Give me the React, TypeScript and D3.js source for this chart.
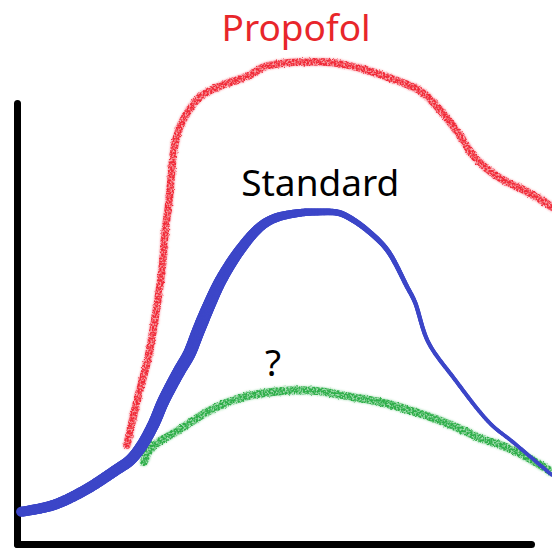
import React, { useEffect, useRef } from "react";
import * as d3 from "d3";

// x: time (0 at y-axis, 100 at end of x-axis); y: level (0 at x-axis, 100 at top of y-axis)
const standardX = [0.8, 7.0, 13.2, 19.3, 22.0, 24.1, 26.5, 28.4, 30.2, 31.7, 33.5, 35.2, 37.2, 39.7, 43.4, 47.3, 50.2, 55.1, 59.0, 62.5, 64.8, 68.1, 72.0, 75.9, 77.4, 80.0, 85.0, 92.0, 96.5, 104.1];
const standardY = [7.3, 8.8, 12.2, 16.8, 19.0, 22.0, 27.0, 32.2, 36.3, 39.5, 43.1, 48.1, 53.7, 59.9, 66.7, 71.9, 73.9, 75.1, 75.3, 75.1, 73.9, 71.2, 66.7, 58.3, 54.9, 45.8, 37.6, 27.4, 23.1, 15.6];

const propofolX = [21.4, 23.3, 25.5, 26.8, 28.2, 28.8, 29.6, 30.4, 30.9, 32.3, 35.6, 40.1, 45.3, 48.1, 54.9, 61.7, 66.7, 72.0, 76.5, 79.0, 82.3, 85.8, 89.1, 93.9, 99.4, 104.1];
const propofolY = [22.4, 32.2, 42.2, 50.8, 62.1, 70.5, 78.0, 88.2, 91.6, 96.1, 101.4, 104.1, 106.3, 108.2, 109.3, 109.1, 107.9, 105.9, 103.9, 102.3, 98.4, 93.2, 87.6, 83.0, 79.8, 76.4];

const unknownX = [24.7, 26.1, 30.9, 37.7, 43.4, 51.6, 58.4, 65.2, 70.6, 80.4, 85.8, 90.1, 96.5, 104.1];
const unknownY = [18.6, 21.8, 25.4, 30.4, 33.1, 34.7, 34.7, 33.3, 32.2, 28.8, 26.3, 24.0, 21.3, 16.3];

const labels = ["Propofol", "Standard", "?"];
const labelX = [54.3, 59.0, 49.8];
const labelY = [114.0, 79.0, 38.1];

const W = 552;
const H = 549;

export default function App() {
  const ref = useRef<SVGSVGElement | null>(null);

  useEffect(() => {
    const svg = d3.select(ref.current);
    svg.selectAll("*").remove();

    const x = d3.scaleLinear().domain([0, 100]).range([17, 531]);
    const y = d3.scaleLinear().domain([0, 100]).range([544, 103]);

    const defs = svg.append("defs");
    const mkFilter = (id: string, seed: number) => {
      const f = defs
        .append("filter")
        .attr("id", id)
        .attr("filterUnits", "userSpaceOnUse")
        .attr("x", 0)
        .attr("y", 0)
        .attr("width", W)
        .attr("height", H);
      f.append("feTurbulence")
        .attr("type", "fractalNoise")
        .attr("baseFrequency", 0.55)
        .attr("numOctaves", 2)
        .attr("seed", seed)
        .attr("result", "noise");
      f.append("feDisplacementMap")
        .attr("in", "SourceGraphic")
        .attr("in2", "noise")
        .attr("scale", 3)
        .attr("xChannelSelector", "R")
        .attr("yChannelSelector", "G")
        .attr("result", "disp");
      f.append("feGaussianBlur")
        .attr("in", "disp")
        .attr("stdDeviation", 0.9)
        .attr("result", "soft");
      f.append("feColorMatrix")
        .attr("in", "soft")
        .attr("type", "matrix")
        .attr("values", "1 0 0 0 0  0 1 0 0 0  0 0 1 0 0  0 0 0 0.45 0")
        .attr("result", "base");
      f.append("feColorMatrix")
        .attr("in", "noise")
        .attr("type", "matrix")
        .attr("values", "0 0 0 0 0  0 0 0 0 0  0 0 0 0 0  0 0 0 -3.2 2.3")
        .attr("result", "mask");
      f.append("feComposite")
        .attr("in", "disp")
        .attr("in2", "mask")
        .attr("operator", "in")
        .attr("result", "tex0");
      f.append("feGaussianBlur")
        .attr("in", "tex0")
        .attr("stdDeviation", 0.5)
        .attr("result", "tex");
      const m = f.append("feMerge");
      m.append("feMergeNode").attr("in", "base");
      m.append("feMergeNode").attr("in", "tex");
    };
    mkFilter("crayonRed", 3);
    mkFilter("crayonGreen", 7);

    // axes
    const gy = svg
      .append("g")
      .attr("transform", `translate(${x(0)},0)`)
      .call(d3.axisLeft(y).tickValues([]).tickSizeOuter(0));
    const gx = svg
      .append("g")
      .attr("transform", `translate(0,${y(0)})`)
      .call(d3.axisBottom(x).tickValues([]).tickSizeOuter(0));
    [gy, gx].forEach((g) =>
      g
        .select(".domain")
        .attr("stroke", "#000")
        .attr("stroke-width", 7)
        .attr("stroke-linecap", "round")
    );

    const line = d3
      .line<[number, number]>()
      .x((d) => x(d[0]))
      .y((d) => y(d[1]))
      .curve(d3.curveCatmullRom.alpha(0.5));

    // Propofol (red crayon)
    svg
      .append("path")
      .attr("d", line(d3.zip(propofolX, propofolY) as [number, number][]))
      .attr("fill", "none")
      .attr("stroke", "#f02a38")
      .attr("stroke-width", 7.5)
      .attr("stroke-linecap", "round")
      .attr("filter", "url(#crayonRed)");

    // unknown (green crayon)
    svg
      .append("path")
      .attr("d", line(d3.zip(unknownX, unknownY) as [number, number][]))
      .attr("fill", "none")
      .attr("stroke", "#2fae48")
      .attr("stroke-width", 8)
      .attr("stroke-linecap", "round")
      .attr("filter", "url(#crayonGreen)");

    // Standard (blue, variable width)
    const widthScale = d3
      .scaleLinear()
      .domain([0, 20, 36, 46, 58, 68, 80, 105])
      .range([10, 11, 13, 10, 7, 5.5, 4, 3.5])
      .clamp(true);
    const helper = svg
      .append("path")
      .attr("d", line(d3.zip(standardX, standardY) as [number, number][]))
      .attr("fill", "none")
      .attr("stroke", "none");
    const node = helper.node() as SVGPathElement;
    const total = node.getTotalLength();
    const step = 1.5;
    const pts: { x: number; y: number }[] = [];
    for (let l = 0; l <= total; l += step) {
      const p = node.getPointAtLength(l);
      pts.push({ x: p.x, y: p.y });
    }
    const pEnd = node.getPointAtLength(total);
    pts.push({ x: pEnd.x, y: pEnd.y });
    const gBlue = svg.append("g");
    for (let i = 0; i < pts.length - 1; i++) {
      const a = pts[i];
      const b = pts[i + 1];
      gBlue
        .append("line")
        .attr("x1", a.x)
        .attr("y1", a.y)
        .attr("x2", b.x)
        .attr("y2", b.y)
        .attr("stroke", "#3c46c8")
        .attr("stroke-width", widthScale(x.invert((a.x + b.x) / 2)))
        .attr("stroke-linecap", "round");
    }
    helper.remove();

    // labels
    const colors = ["#e8262b", "#000", "#000"];
    labels.forEach((t, i) => {
      svg
        .append("text")
        .attr("x", x(labelX[i]))
        .attr("y", y(labelY[i]))
        .attr("text-anchor", "middle")
        .attr("font-family", "'Noto Sans', 'Open Sans', sans-serif")
        .attr("font-size", 37)
        .attr("fill", colors[i])
        .text(t);
    });
  }, []);

  return (
    <svg
      ref={ref}
      width={W}
      height={H}
      viewBox={`0 0 ${W} ${H}`}
      style={{ position: "absolute", left: 0, top: 0, background: "#fff" }}
    />
  );
}
